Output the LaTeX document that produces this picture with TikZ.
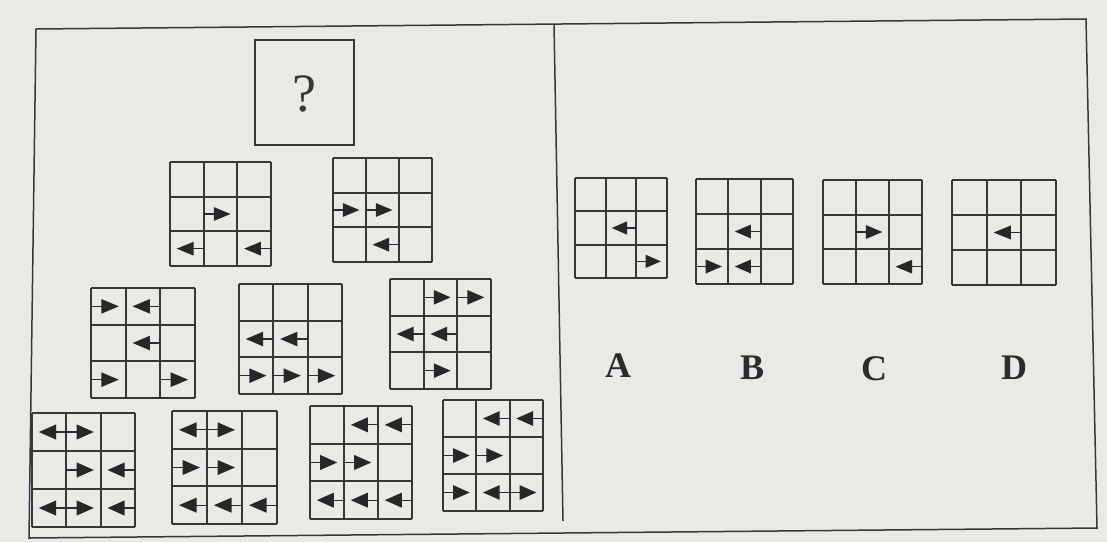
\documentclass[tikz,border=0pt]{standalone}
\usepackage{fontspec}
\setmainfont{Liberation Serif}
\definecolor{paper}{RGB}{233,233,230}
\definecolor{ink}{RGB}{55,55,55}
\tikzset{
  gridline/.style={draw=ink, line width=1.8pt},
  frameline/.style={draw=ink, line width=1.5pt},
  arrline/.style={draw=ink!80!black, line width=1.2pt},
  arrhead/.style={fill=ink!70!black},
  optlabel/.style={font=\fontsize{36}{40}\selectfont\bfseries, text=ink!80!black},
}
% 3x3 grid: #1 x, #2 y (top-left), #3 width, #4 height, #5 arrows
\newcommand\pgrid[5]{%
  \begin{scope}[shift={(#1,#2)}, x={(#3/3*1pt,0)}, y={(0,-#4/3*1pt)}]
    \foreach \k in {0,1,2,3} {
      \draw[gridline] (\k,0) -- (\k,3);
      \draw[gridline] (0,\k) -- (3,\k);
    }
    #5
  \end{scope}}
% right arrow in row #1, column #2
\newcommand\rA[2]{%
  \draw[arrline] (#2-1,#1-0.5) -- (#2-0.6,#1-0.5);
  \fill[arrhead] (#2-0.7,#1-0.5-0.2) -- (#2-0.2,#1-0.5) -- (#2-0.7,#1-0.5+0.2) -- cycle;}
% left arrow in row #1, column #2
\newcommand\lA[2]{%
  \draw[arrline] (#2,#1-0.5) -- (#2-0.4,#1-0.5);
  \fill[arrhead] (#2-0.3,#1-0.5-0.2) -- (#2-0.8,#1-0.5) -- (#2-0.3,#1-0.5+0.2) -- cycle;}
\begin{document}
\begin{tikzpicture}[x=1pt,y=-1pt]
  \fill[paper] (0,0) rectangle (1107,542);
  \useasboundingbox (0,0) rectangle (1107,542);
  % outer frame and divider
  \coordinate (tl) at (36,29);
  \coordinate (tr) at (1086,19);
  \coordinate (br) at (1097,528);
  \coordinate (bl) at (29,538);
  \coordinate (dt) at (554,24);
  \coordinate (db) at (563,521);
  \draw[frameline] (tl) -- (tr) -- (br) -- (bl) -- cycle;
  \draw[frameline] (dt) -- (db);
  % question box
  \draw[gridline] (255,40) rectangle (354,145);
  \node[font=\fontsize{54}{58}\selectfont, text=ink] (q) at (304.5,94) {?};
  % top row
  \pgrid{170}{162}{101}{104}{\rA{2}{2}\lA{3}{1}\lA{3}{3}}
  \pgrid{333}{158}{99}{104}{\rA{2}{1}\rA{2}{2}\lA{3}{2}}
  % middle row
  \pgrid{91}{288}{104}{110}{\rA{1}{1}\lA{1}{2}\lA{2}{2}\rA{3}{1}\rA{3}{3}}
  \pgrid{239}{284}{103}{110}{\lA{2}{1}\lA{2}{2}\rA{3}{1}\rA{3}{2}\rA{3}{3}}
  \pgrid{390}{279}{101}{110}{\rA{1}{2}\rA{1}{3}\lA{2}{1}\lA{2}{2}\rA{3}{2}}
  % bottom row
  \pgrid{32}{413}{103}{114}{\lA{1}{1}\rA{1}{2}\rA{2}{2}\lA{2}{3}\lA{3}{1}\rA{3}{2}\lA{3}{3}}
  \pgrid{172}{411}{105}{113}{\lA{1}{1}\rA{1}{2}\rA{2}{1}\rA{2}{2}\lA{3}{1}\lA{3}{2}\lA{3}{3}}
  \pgrid{310}{406}{102}{113}{\lA{1}{2}\lA{1}{3}\rA{2}{1}\rA{2}{2}\lA{3}{1}\lA{3}{2}\lA{3}{3}}
  \pgrid{443}{400}{100}{111}{\lA{1}{2}\lA{1}{3}\rA{2}{1}\rA{2}{2}\rA{3}{1}\lA{3}{2}\rA{3}{3}}
  % options
  \pgrid{575}{178}{92}{100}{\lA{2}{2}\rA{3}{3}}
  \pgrid{696}{179}{97}{105}{\lA{2}{2}\rA{3}{1}\lA{3}{2}}
  \pgrid{823}{180}{99}{104}{\rA{2}{2}\lA{3}{3}}
  \pgrid{952}{180}{104}{105}{\lA{2}{2}}
  \node[optlabel] (la) at (618,366) {A};
  \node[optlabel] (lb) at (752,368) {B};
  \node[optlabel] (lc) at (874,369) {C};
  \node[optlabel] (ld) at (1014,368) {D};
\end{tikzpicture}
\end{document}
